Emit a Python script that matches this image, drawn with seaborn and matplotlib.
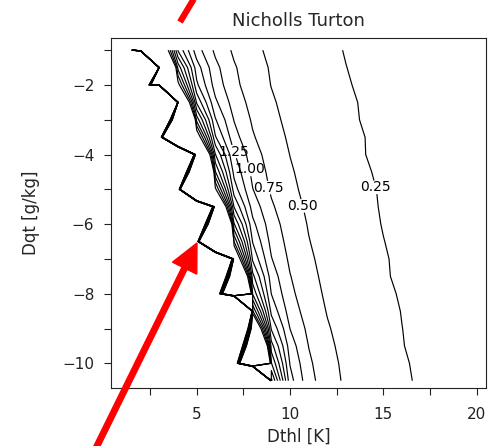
import numpy as np
import matplotlib
matplotlib.use("Agg")
import matplotlib.pyplot as plt
import seaborn as sns
from matplotlib.ticker import MultipleLocator
from matplotlib.patches import FancyArrow
from matplotlib.lines import Line2D

# ---------------- data ----------------
title = "Nicholls Turton"
x_label = "Dthl [K]"
y_label = "Dqt [g/kg]"
x_ticks = [5, 10, 15, 20]
y_ticks = [-10, -8, -6, -4, -2]

# grid rows (Dqt) and columns (Dthl)
dqt_rows = [-1.0, -1.5, -2.0, -2.5, -3.0, -3.5, -4.0, -4.5, -5.0, -5.5,
            -6.0, -6.5, -7.0, -7.5, -8.0, -8.5, -9.0, -9.5, -10.0, -10.5]
dthl_cols = [0, 1, 2, 3, 4, 5, 6, 7, 8, 9, 10, 11, 12, 13, 14, 15, 16,
             17, 18, 19, 20, 21]
# singular edge (jagged line) per row
edge_dthl = [1.5, 2.05, 2.55, 3.02, 3.45, 3.85, 4.2, 4.55, 4.9, 5.2,
             5.55, 5.9, 6.15, 6.45, 6.75, 7.05, 7.3, 7.55, 7.8, 8.05]
# Dthl where the 0.25 and 0.50 contours cross each row
x_at_025 = [12.8, 13.05, 13.3, 13.6, 13.7, 14.02, 14.05, 14.35, 14.6, 14.7,
            14.85, 15.07, 15.28, 15.35, 15.66, 15.9, 16.03, 16.12, 16.37, 16.52]
x_at_050 = [8.5, 8.8, 8.95, 9.23, 9.46, 9.72, 9.97, 10.2, 10.4, 10.65,
            10.88, 11.07, 11.28, 11.47, 11.67, 11.9, 12.15, 12.36, 12.55, 12.68]
levels = [0.25, 0.5, 0.75, 1.0, 1.25, 1.5, 1.75, 2.0, 2.25, 2.5, 2.75, 3.0,
          3.25, 3.5]
label_levels = [1.25, 1.0, 0.75, 0.5, 0.25]
label_spots = [(6.89, -3.93), (7.69, -4.44), (8.75, -4.96), (10.64, -5.48), (14.44, -4.96)]

# ---------------- field on the grid ----------------
X = np.array(dthl_cols, dtype=float)
Y = np.array(dqt_rows, dtype=float)
Z = np.empty((len(Y), len(X)))
for i, (c, a, b) in enumerate(zip(edge_dthl, x_at_025, x_at_050)):
    d025 = a - c
    d05 = b - c
    p = np.log(d025 / d05) / np.log(2.0)
    d1 = d05 / 2.0 ** p
    d = X - c
    Z[i] = np.sign(d) * (d1 / np.abs(d)) ** (1.0 / p)

# ---------------- styling ----------------
sns.set_style("ticks")
plt.rcParams.update({
    "font.family": ["DejaVu Sans"],
    "axes.unicode_minus": True,
    "axes.linewidth": 0.8,
    "axes.edgecolor": "#222222",
    "xtick.major.size": 5, "ytick.major.size": 5,
    "xtick.minor.size": 5, "ytick.minor.size": 5,
    "xtick.major.width": 0.8, "ytick.major.width": 0.8,
    "xtick.minor.width": 0.8, "ytick.minor.width": 0.8,
    "xtick.color": "#222222", "ytick.color": "#222222",
})

fig = plt.figure(figsize=(4.88, 4.46), dpi=100)
ax = fig.add_axes([111 / 488, 58 / 446, 375 / 488, 350 / 446])

cs = ax.contour(X, Y, Z, levels=levels, colors="black", linewidths=0.85)
texts = ax.clabel(cs, levels=label_levels, manual=label_spots, fmt="%.2f",
                  fontsize=10, inline=True, inline_spacing=-8)
for t in texts:
    t.set_rotation(0)

ax.set_xlim(0.41, 20.5)
ax.set_ylim(-10.71, -0.65)
ax.set_xticks(x_ticks)
ax.set_yticks(y_ticks)
ax.xaxis.set_minor_locator(MultipleLocator(2.5))
ax.yaxis.set_minor_locator(MultipleLocator(1.0))
ax.tick_params(axis="x", which="both", direction="out", pad=9, labelsize=11)
ax.tick_params(axis="y", which="both", direction="out", pad=7, labelsize=11)
ax.set_xlabel(x_label, fontsize=12, labelpad=4)
ax.set_ylabel(y_label, fontsize=12, labelpad=16)
ax.set_title(title, fontsize=13, pad=9)

# ---------------- red annotation arrows ----------------
arrow = FancyArrow(0.95, -0.04, 1.02, 2.07, width=0.055, head_width=0.27,
                   head_length=0.28, length_includes_head=True,
                   color="#ff0000", transform=fig.dpi_scale_trans,
                   clip_on=False, zorder=10)
fig.add_artist(arrow)
fig.add_artist(Line2D([1.80, 1.95], [4.24, 4.49], color="#ff0000", lw=4.5,
                      solid_capstyle="butt", transform=fig.dpi_scale_trans))

fig.savefig("out.png", dpi=100)
